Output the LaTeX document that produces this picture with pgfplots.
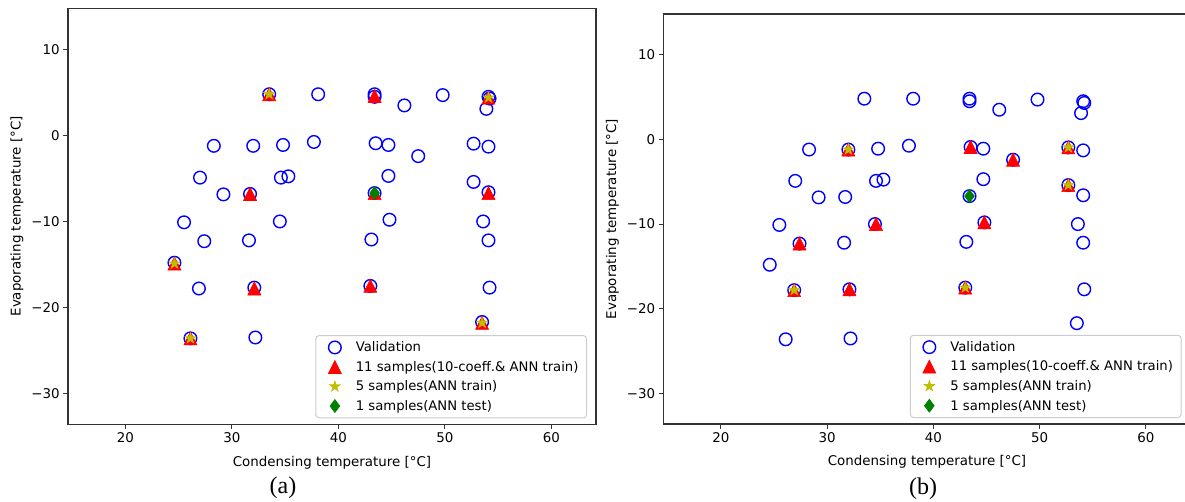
\documentclass[border=0pt]{standalone}
\usepackage{fontspec}
\setmainfont{DejaVu Sans}
\newfontfamily\capfont{Liberation Serif}
\usepackage{pgfplots}
\pgfplotsset{compat=1.18}

\definecolor{mplblue}{rgb}{0,0,1}
\definecolor{mplred}{rgb}{1,0,0}
\definecolor{mplyellow}{rgb}{0.75,0.75,0}
\definecolor{mplgreen}{rgb}{0,0.5,0}

% upward triangle centred on its bounding box
\pgfdeclareplotmark{mtri}{%
  \pgfpathmoveto{\pgfpoint{0pt}{\pgfplotmarksize}}%
  \pgfpathlineto{\pgfpoint{-\pgfplotmarksize}{-\pgfplotmarksize}}%
  \pgfpathlineto{\pgfpoint{\pgfplotmarksize}{-\pgfplotmarksize}}%
  \pgfpathclose
  \pgfusepathqfillstroke}
% filled five-pointed star
\pgfdeclareplotmark{mstar}{%
  \pgfpathmoveto{\pgfpointpolar{90}{\pgfplotmarksize}}%
  \pgfpathlineto{\pgfpointpolar{126}{0.382\pgfplotmarksize}}%
  \pgfpathlineto{\pgfpointpolar{162}{\pgfplotmarksize}}%
  \pgfpathlineto{\pgfpointpolar{198}{0.382\pgfplotmarksize}}%
  \pgfpathlineto{\pgfpointpolar{234}{\pgfplotmarksize}}%
  \pgfpathlineto{\pgfpointpolar{270}{0.382\pgfplotmarksize}}%
  \pgfpathlineto{\pgfpointpolar{306}{\pgfplotmarksize}}%
  \pgfpathlineto{\pgfpointpolar{342}{0.382\pgfplotmarksize}}%
  \pgfpathlineto{\pgfpointpolar{18}{\pgfplotmarksize}}%
  \pgfpathlineto{\pgfpointpolar{54}{0.382\pgfplotmarksize}}%
  \pgfpathclose
  \pgfusepathqfillstroke}

% validation points (same set in both panels)
\pgfplotstableread{
x y
33.5 4.8
38.1 4.8
43.4 4.8
43.4 4.5
46.2 3.5
49.8 4.7
54.1 4.5
54.2 4.3
53.9 3.1
28.3 -1.2
32.0 -1.2
34.8 -1.1
37.7 -0.75
43.5 -0.9
44.7 -1.1
47.5 -2.4
52.7 -0.95
54.1 -1.3
27.0 -4.9
34.6 -4.9
35.3 -4.75
44.7 -4.7
52.7 -5.4
29.2 -6.85
31.7 -6.8
43.4 -6.7
54.1 -6.6
25.5 -10.1
34.5 -10.0
44.8 -9.8
53.6 -10.0
27.4 -12.3
31.6 -12.2
43.1 -12.1
54.1 -12.2
24.6 -14.8
26.9 -17.8
32.1 -17.7
43.0 -17.5
54.2 -17.7
53.5 -21.7
26.1 -23.6
32.2 -23.5
}\validation

\pgfplotstableread{
x y
33.5 4.8
43.4 4.6
54.1 4.4
31.7 -6.8
43.4 -6.7
54.1 -6.7
24.6 -14.9
32.1 -17.8
43.0 -17.5
53.5 -21.8
26.1 -23.6
}\trainA
\pgfplotstableread{
x y
33.5 4.8
54.1 4.4
24.6 -14.9
53.5 -21.8
26.1 -23.6
}\annA
\pgfplotstableread{
x y
32.0 -1.2
43.5 -0.9
47.5 -2.4
52.7 -0.95
52.7 -5.4
34.6 -10.0
44.8 -9.8
27.4 -12.3
26.9 -17.8
32.1 -17.7
43.0 -17.5
}\trainB
\pgfplotstableread{
x y
32.0 -1.2
52.7 -0.95
52.7 -5.4
26.9 -17.8
43.0 -17.5
}\annB
\pgfplotstableread{
x y
43.4 -6.7
}\testAB

\newcommand\mplfont{\fontsize{13.4}{16}\selectfont}
\newcommand\legfont{\fontsize{13.2}{15.5}\selectfont}

\pgfplotsset{
  panel/.style={
    scale only axis, width=528pt, height=416pt,
    xmin=14.6, xmax=64.2, ymin=-33.6, ymax=14.8,
    xtick={20,30,40,50,60}, xticklabels={20,30,40,50,60},
    ytick={-30,-20,-10,0,10}, yticklabels={−30,−20,−10,0,10},
    tick pos=left, tick align=outside, major tick length=4.9pt,
    every tick/.style={black!80, line width=1.1pt},
    axis line style={black!80, line width=1.1pt},
    tick label style={font=\mplfont},
    label style={font=\mplfont},
    xlabel={Condensing temperature [°C]},
    ylabel={Evaporating temperature [°C]},
    xlabel style={at={([yshift=-38pt]axis description cs:0.5,0)}, anchor=center},
    ylabel style={at={([xshift=-51pt]axis description cs:0,0.5)}, anchor=center},
    legend style={at={(axis description cs:1,0)}, anchor=south east,
      xshift=-9pt, yshift=6pt, draw=black!20, line width=1pt,
      rounded corners=3pt, fill=white, fill opacity=0.8, text opacity=1,
      inner xsep=6pt, inner ysep=4pt, row sep=4pt, font=\legfont,
      cells={anchor=west}},
    legend image code/.code={%
      \path[draw=none, fill=none] (-13pt,-1pt) rectangle (19pt,1pt);
      \draw[##1, fill opacity=1, draw opacity=1]
        plot coordinates {(0pt,0pt)};},
  },
  valid/.style={only marks, mark=o, mark size=6.3pt, color=mplblue,
    mark options={line width=1.4pt}},
  train/.style={only marks, mark=mtri, mark size=6.5pt, color=mplred,
    mark options={fill=mplred, line width=0.6pt}},
  ann/.style={only marks, mark=mstar, mark size=5.6pt, color=mplyellow,
    mark options={fill=mplyellow, line width=0.6pt}},
  test/.style={only marks, mark=diamond*, mark size=6.5pt, color=mplgreen,
    mark options={fill=mplgreen, line width=0.6pt}},
}

\begin{document}
\begin{tikzpicture}
\begin{axis}[panel, at={(68pt,-8.3pt)}, anchor=north west]
  \addplot[valid] table {\validation};
  \addplot[train] table {\trainA};
  \addplot[ann] table {\annA};
  \addplot[test] table {\testAB};
  \legend{Validation, 11 samples(10-coeff.\& ANN train), 5 samples(ANN train), 1 samples(ANN test)}
\end{axis}
\begin{axis}[panel, height=410pt, width=527pt, at={(663.5pt,-14pt)}, anchor=north west]
  \addplot[valid] table {\validation};
  \addplot[train] table {\trainB};
  \addplot[ann] table {\annB};
  \addplot[test] table {\testAB};
  \legend{Validation, 11 samples(10-coeff.\& ANN train), 5 samples(ANN train), 1 samples(ANN test)}
\end{axis}
\node[font=\capfont\fontsize{24}{28}\selectfont] at (283pt,-488pt) {(a)};
\node[font=\capfont\fontsize{24}{28}\selectfont] at (923pt,-489pt) {(b)};
\pgfresetboundingbox
\useasboundingbox (0pt,0pt) rectangle (1185pt,-502pt);
\end{tikzpicture}
\end{document}
